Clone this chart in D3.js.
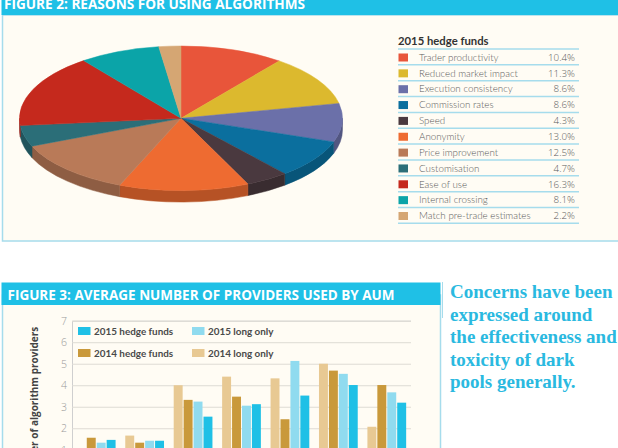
<!DOCTYPE html>
<html>
<head>
<meta charset="utf-8">
<script src="https://cdn.jsdelivr.net/npm/d3@7"></script>
<style>
  body { margin: 0; background: #ffffff; }
  svg text { font-family: "Open Sans", "DejaVu Sans", sans-serif; }
</style>
</head>
<body>
<div id="chart"></div>
<script>
// ---- figure 2 data ----
var reasons = ["Trader productivity", "Reduced market impact", "Execution consistency",
  "Commission rates", "Speed", "Anonymity", "Price improvement", "Customisation",
  "Ease of use", "Internal crossing", "Match pre-trade estimates"];
var shares = [10.4, 11.3, 8.6, 8.6, 4.3, 13.0, 12.5, 4.7, 16.3, 8.1, 2.2];
var sliceColours = ["#e8553a", "#dcb92e", "#6b70a9", "#0b6f9e", "#4a393f", "#ee6b31",
  "#b97a58", "#2b6e78", "#c5291d", "#0ba4a8", "#d5a673"];

// ---- figure 3 data ----
var aumBuckets = ["<$100m", "$100-250m", "$250-500m", "$500m-1bn", "$1-5bn", "$5-10bn", ">$10bn"];
var seriesNames = ["2014 long only", "2014 hedge funds", "2015 long only", "2015 hedge funds"];
var longOnly2014 = [1.0, 1.66, 4.0, 4.4, 4.32, 5.0, 2.07];
var hedge2014 = [1.56, 1.33, 3.32, 3.47, 2.42, 4.68, 4.01];
var longOnly2015 = [1.33, 1.42, 3.24, 3.05, 5.13, 4.53, 3.67];
var hedge2015 = [1.46, 1.42, 2.54, 3.12, 3.52, 4.01, 3.19];
var seriesColours = ["#e8c993", "#c9993b", "#90dbef", "#1fc0e6"];
var yTicks = [0, 1, 2, 3, 4, 5, 6, 7];

var quote = ["Concerns have been", "expressed around", "the effectiveness and",
  "toxicity of dark", "pools generally."];

var W = 618, H = 448;
var cyan = "#1fc0e6", border = "#a6dcec", cream = "#fffcf4";

var svg = d3.select("#chart").append("svg")
  .attr("width", W).attr("height", H);

// ================= FIGURE 2 panel =================
svg.append("rect")
  .attr("x", 2.5).attr("y", 15).attr("width", W).attr("height", 226)
  .attr("fill", cream).attr("stroke", border).attr("stroke-width", 1.5);
svg.append("rect")
  .attr("x", 1.5).attr("y", -2).attr("width", W).attr("height", 17)
  .attr("fill", cyan);
svg.append("text")
  .attr("x", 4).attr("y", 8.5)
  .attr("fill", "#fff").attr("font-weight", 700).attr("font-size", 13.6)
  .text("FIGURE 2: REASONS FOR USING ALGORITHMS");

// 3d pie
var cx = 181, cy = 118.3, rx = 161.5, ry = 72.3, depth = 11.5;
var arcs = d3.pie().sort(null).value(function(d) { return d; })(shares);

function pt(a, dy) {
  return [cx + rx * Math.sin(a), cy - ry * Math.cos(a) + (dy || 0)];
}

function topPath(d) {
  var p0 = pt(d.startAngle), p1 = pt(d.endAngle);
  var large = (d.endAngle - d.startAngle) > Math.PI ? 1 : 0;
  return "M" + cx + "," + cy + "L" + p0 + "A" + rx + "," + ry + " 0 " + large + " 1 " + p1 + "Z";
}

function sidePath(d) {
  var s = Math.max(d.startAngle, Math.PI / 2), e = Math.min(d.endAngle, Math.PI * 1.5);
  if (s >= e) return null;
  return "M" + pt(s) + "A" + rx + "," + ry + " 0 0 1 " + pt(e) +
    "L" + pt(e, depth) + "A" + rx + "," + ry + " 0 0 0 " + pt(s, depth) + "Z";
}

var pie = svg.append("g");
pie.selectAll("path.side")
  .data(arcs.filter(function(d) { return sidePath(d) !== null; }))
  .enter().append("path")
  .attr("class", "side")
  .attr("d", sidePath)
  .attr("fill", function(d) { return d3.color(sliceColours[d.index]).darker(0.75); })
  .attr("stroke", function(d) { return d3.color(sliceColours[d.index]).darker(0.75); })
  .attr("stroke-width", 0.5);

pie.selectAll("path.top")
  .data(arcs)
  .enter().append("path")
  .attr("class", "top")
  .attr("d", topPath)
  .attr("fill", function(d) { return sliceColours[d.index]; })
  .attr("stroke", function(d) { return sliceColours[d.index]; })
  .attr("stroke-width", 0.5);

// legend
var lg = svg.append("g").attr("transform", "translate(398,0)");
var rowY = d3.scaleBand().domain(reasons).range([49, 49 + 15.85 * reasons.length]);

lg.append("text")
  .attr("x", 0).attr("y", 44.5)
  .attr("fill", "#333").attr("font-weight", 700).attr("font-size", 11.3)
  .style("font-family", "Lato, sans-serif")
  .text("2015 hedge funds");

lg.append("line")
  .attr("x1", 0).attr("x2", 181).attr("y1", 49).attr("y2", 49)
  .attr("stroke", border).attr("stroke-width", 1.5);

var rows = lg.selectAll("g.row")
  .data(reasons)
  .enter().append("g")
  .attr("class", "row")
  .attr("transform", function(d) { return "translate(0," + rowY(d) + ")"; });

rows.append("rect")
  .attr("x", 0.5).attr("y", 4.5).attr("width", 9.5).attr("height", 8)
  .attr("fill", function(d, i) { return sliceColours[i]; });

rows.append("text")
  .attr("x", 21).attr("y", 11.8)
  .attr("fill", "#5a5a5a").attr("font-weight", 300).attr("font-size", 9.8)
  .style("font-family", "Lato, sans-serif")
  .text(function(d) { return d; });

rows.append("text")
  .attr("x", 177).attr("y", 11.8)
  .attr("text-anchor", "end")
  .attr("fill", "#5a5a5a").attr("font-weight", 300).attr("font-size", 9.8)
  .text(function(d, i) { return shares[i].toFixed(1) + "%"; });

rows.append("line")
  .attr("x1", 0).attr("x2", 181).attr("y1", rowY.bandwidth()).attr("y2", rowY.bandwidth())
  .attr("stroke", border).attr("stroke-width", 1.5);

// ================= FIGURE 3 panel =================
svg.append("rect")
  .attr("x", 2.5).attr("y", 295).attr("width", 438).attr("height", 200)
  .attr("fill", cream).attr("stroke", border).attr("stroke-width", 1.5);
svg.append("rect")
  .attr("x", 1.5).attr("y", 282.5).attr("width", 439).attr("height", 22.5)
  .attr("fill", cyan);
svg.append("text")
  .attr("x", 7.5).attr("y", 299.5)
  .attr("fill", "#fff").attr("font-weight", 700).attr("font-size", 13.5)
  .text("FIGURE 3: AVERAGE NUMBER OF PROVIDERS USED BY AUM");

var plotL = 72, plotR = 411, plotT = 320.7, plotB = 471.3;
var x0 = d3.scaleBand().domain(aumBuckets).range([plotL, plotR]).paddingInner(0.2).paddingOuter(0.1);
var x1 = d3.scaleBand().domain(seriesNames).range([0, x0.bandwidth()]).paddingInner(0.1);
var y = d3.scaleLinear().domain([0, 7]).range([plotB, plotT]);

var yAxis = d3.axisLeft(y).tickValues(yTicks).tickFormat(d3.format("d"))
  .tickSize(-(plotR - plotL)).tickPadding(5);
var ga = svg.append("g")
  .attr("transform", "translate(" + plotL + ",0)")
  .call(yAxis);
ga.select(".domain").attr("stroke", "#cfcfcf");
ga.selectAll(".tick line").attr("stroke", "#dedbd4");
ga.selectAll(".tick text")
  .attr("fill", "#9a9a9a").attr("font-size", 10.5).attr("font-weight", 300)
  .style("font-family", "'Open Sans', sans-serif");

var gx = svg.append("g")
  .attr("transform", "translate(0," + plotB + ")")
  .call(d3.axisBottom(x0).tickSize(0));
gx.select(".domain").attr("stroke", "#cfcfcf");
gx.selectAll(".tick text").attr("font-size", 8).attr("fill", "#777");

svg.append("text")
  .attr("transform", "translate(38," + (plotT + 6) + ") rotate(-90)")
  .attr("text-anchor", "end")
  .attr("fill", "#444").attr("font-weight", 700).attr("font-size", 10)
  .text("Number of algorithm providers");

var table = aumBuckets.map(function(b, i) {
  return { bucket: b, values: [longOnly2014[i], hedge2014[i], longOnly2015[i], hedge2015[i]] };
});

var groups = svg.append("g").selectAll("g")
  .data(table)
  .enter().append("g")
  .attr("transform", function(d) { return "translate(" + x0(d.bucket) + ",0)"; });

groups.selectAll("rect")
  .data(function(d) { return d.values.map(function(v, j) { return { name: seriesNames[j], value: v, j: j }; }); })
  .enter().append("rect")
  .attr("x", function(d) { return x1(d.name); })
  .attr("width", x1.bandwidth())
  .attr("y", function(d) { return y(d.value); })
  .attr("height", function(d) { return plotB - y(d.value); })
  .attr("fill", function(d) { return seriesColours[d.j]; });

// legend (2015 on top row, 2014 below)
var legendItems = [
  { name: "2015 hedge funds", c: 3, x: 78, y: 327 },
  { name: "2015 long only", c: 2, x: 192, y: 327 },
  { name: "2014 hedge funds", c: 1, x: 78, y: 349 },
  { name: "2014 long only", c: 0, x: 192, y: 349 }
];
var li = svg.append("g").selectAll("g")
  .data(legendItems)
  .enter().append("g")
  .attr("transform", function(d) { return "translate(" + d.x + "," + d.y + ")"; });
li.append("rect")
  .attr("width", 12.5).attr("height", 8)
  .attr("fill", function(d) { return seriesColours[d.c]; });
li.append("text")
  .attr("x", 16).attr("y", 7.8)
  .attr("fill", "#4a4a4a").attr("font-weight", 700).attr("font-size", 9.9)
  .style("font-family", "Lato, sans-serif")
  .text(function(d) { return d.name; });

// side quote
svg.append("line")
  .attr("x1", 442.5).attr("x2", 442.5).attr("y1", 282).attr("y2", 318)
  .attr("stroke", border).attr("stroke-width", 1);

svg.append("g").selectAll("text")
  .data(quote)
  .enter().append("text")
  .attr("x", 450)
  .attr("y", function(d, i) { return 298.3 + i * 22.5; })
  .attr("fill", "#2ab9e0")
  .attr("font-weight", 700).attr("font-size", 19)
  .style("font-family", "'Liberation Serif', 'Times New Roman', serif")
  .text(function(d) { return d; });
</script>
</body>
</html>
